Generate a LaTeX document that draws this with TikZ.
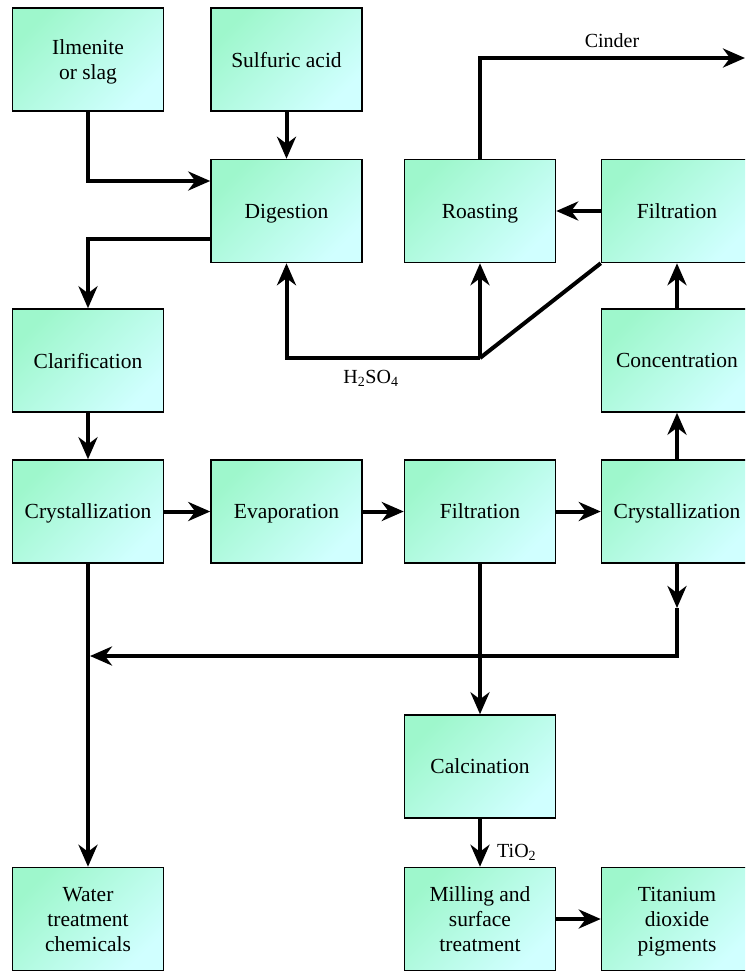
\documentclass[tikz,border=0pt]{standalone}
\usepackage{fontspec}
\setmainfont{Liberation Serif}
\newfontfamily\boxserif{Liberation Serif}
\usetikzlibrary{arrows.meta}
\definecolor{boxgreen}{RGB}{158,247,204}
\definecolor{boxcyan}{RGB}{208,255,255}
\tikzset{
  stepbox/.style={draw=black, line width=1.5pt, minimum width=151pt, minimum height=103pt,
    inner sep=0pt, align=center, text depth=0pt, top color=boxgreen, bottom color=boxcyan,
    shading angle=45, font=\boxserif\fontsize{21.5}{25}\selectfont},
  flow/.style={line width=4pt, -{Stealth[length=22pt,width=19pt,inset=7pt]}},
  plain/.style={line width=4pt},
  lbl/.style={font=\boxserif\fontsize{20}{23}\selectfont, inner sep=0pt}
}
\begin{document}
\begin{tikzpicture}[x=1pt,y=-1pt]
\useasboundingbox (0,0) rectangle (745,972);
\clip (0,0) rectangle (745,972);
% process boxes
\node[stepbox] (ilm) at (88,59.5) {Ilmenite\\or slag};
\node[stepbox] (sul) at (286.5,59.5) {Sulfuric acid};
\node[stepbox] (dig) at (286.5,211) {Digestion};
\node[stepbox] (roa) at (480,211) {Roasting};
\node[stepbox] (fi4) at (677,211) {Filtration};
\node[stepbox] (cla) at (88,360.5) {Clarification};
\node[stepbox] (con) at (677,360.5) {Concentration};
\node[stepbox] (cr1) at (88,511.5) {Crystallization};
\node[stepbox] (eva) at (286.5,511.5) {Evaporation};
\node[stepbox] (fi3) at (480,511.5) {Filtration};
\node[stepbox] (cr4) at (677,511.5) {Crystallization};
\node[stepbox] (cal) at (480,766.5) {Calcination};
\node[stepbox] (wat) at (88,919) {Water\\treatment\\chemicals};
\node[stepbox] (mil) at (480,919) {Milling and\\surface\\treatment};
\node[stepbox] (tit) at (677,919) {Titanium\\dioxide\\pigments};
% helper points
\coordinate (cinder) at (745,58);
\coordinate (junc) at (480,358);
\coordinate (midarr) at (677,608);
\coordinate (ret) at (677,656);
\coordinate (join) at (90,656);
% connectors
\draw[flow] (ilm.south) |- ([yshift=30pt]dig.west);
\draw[flow] (sul.south) -- (dig.north);
\draw[flow] ([yshift=-28pt]dig.west) -| (cla.north);
\draw[flow] (cla.south) -- (cr1.north);
\draw[flow] (cr1.east) -- (eva.west);
\draw[flow] (eva.east) -- (fi3.west);
\draw[flow] (fi3.east) -- (cr4.west);
\draw[flow] (cr4.north) -- (con.south);
\draw[flow] (con.north) -- (fi4.south);
\draw[flow] (fi4.west) -- (roa.east);
\draw[flow] (roa.north) |- (cinder);
\node[lbl, above] at (612,48) {Cinder};
\draw[plain, line join=round] (fi4.south west) -- (junc);
\draw[flow] (junc) -- (roa.south);
\draw[flow] (junc) -| (dig.south);
\node[lbl] at (371,378) {H\textsubscript{2}SO\textsubscript{4}};
\draw[flow] (cr4.south) -- (midarr);
\draw[flow] (midarr) -- (ret) -- (join);
\draw[flow] (cr1.south) -- (wat.north);
\draw[flow] (fi3.south) -- (cal.north);
\draw[flow] (cal.south) -- (mil.north);
\node[lbl, anchor=west] at (497,852) {TiO\textsubscript{2}};
\draw[flow] (mil.east) -- (tit.west);
\end{tikzpicture}
\end{document}
